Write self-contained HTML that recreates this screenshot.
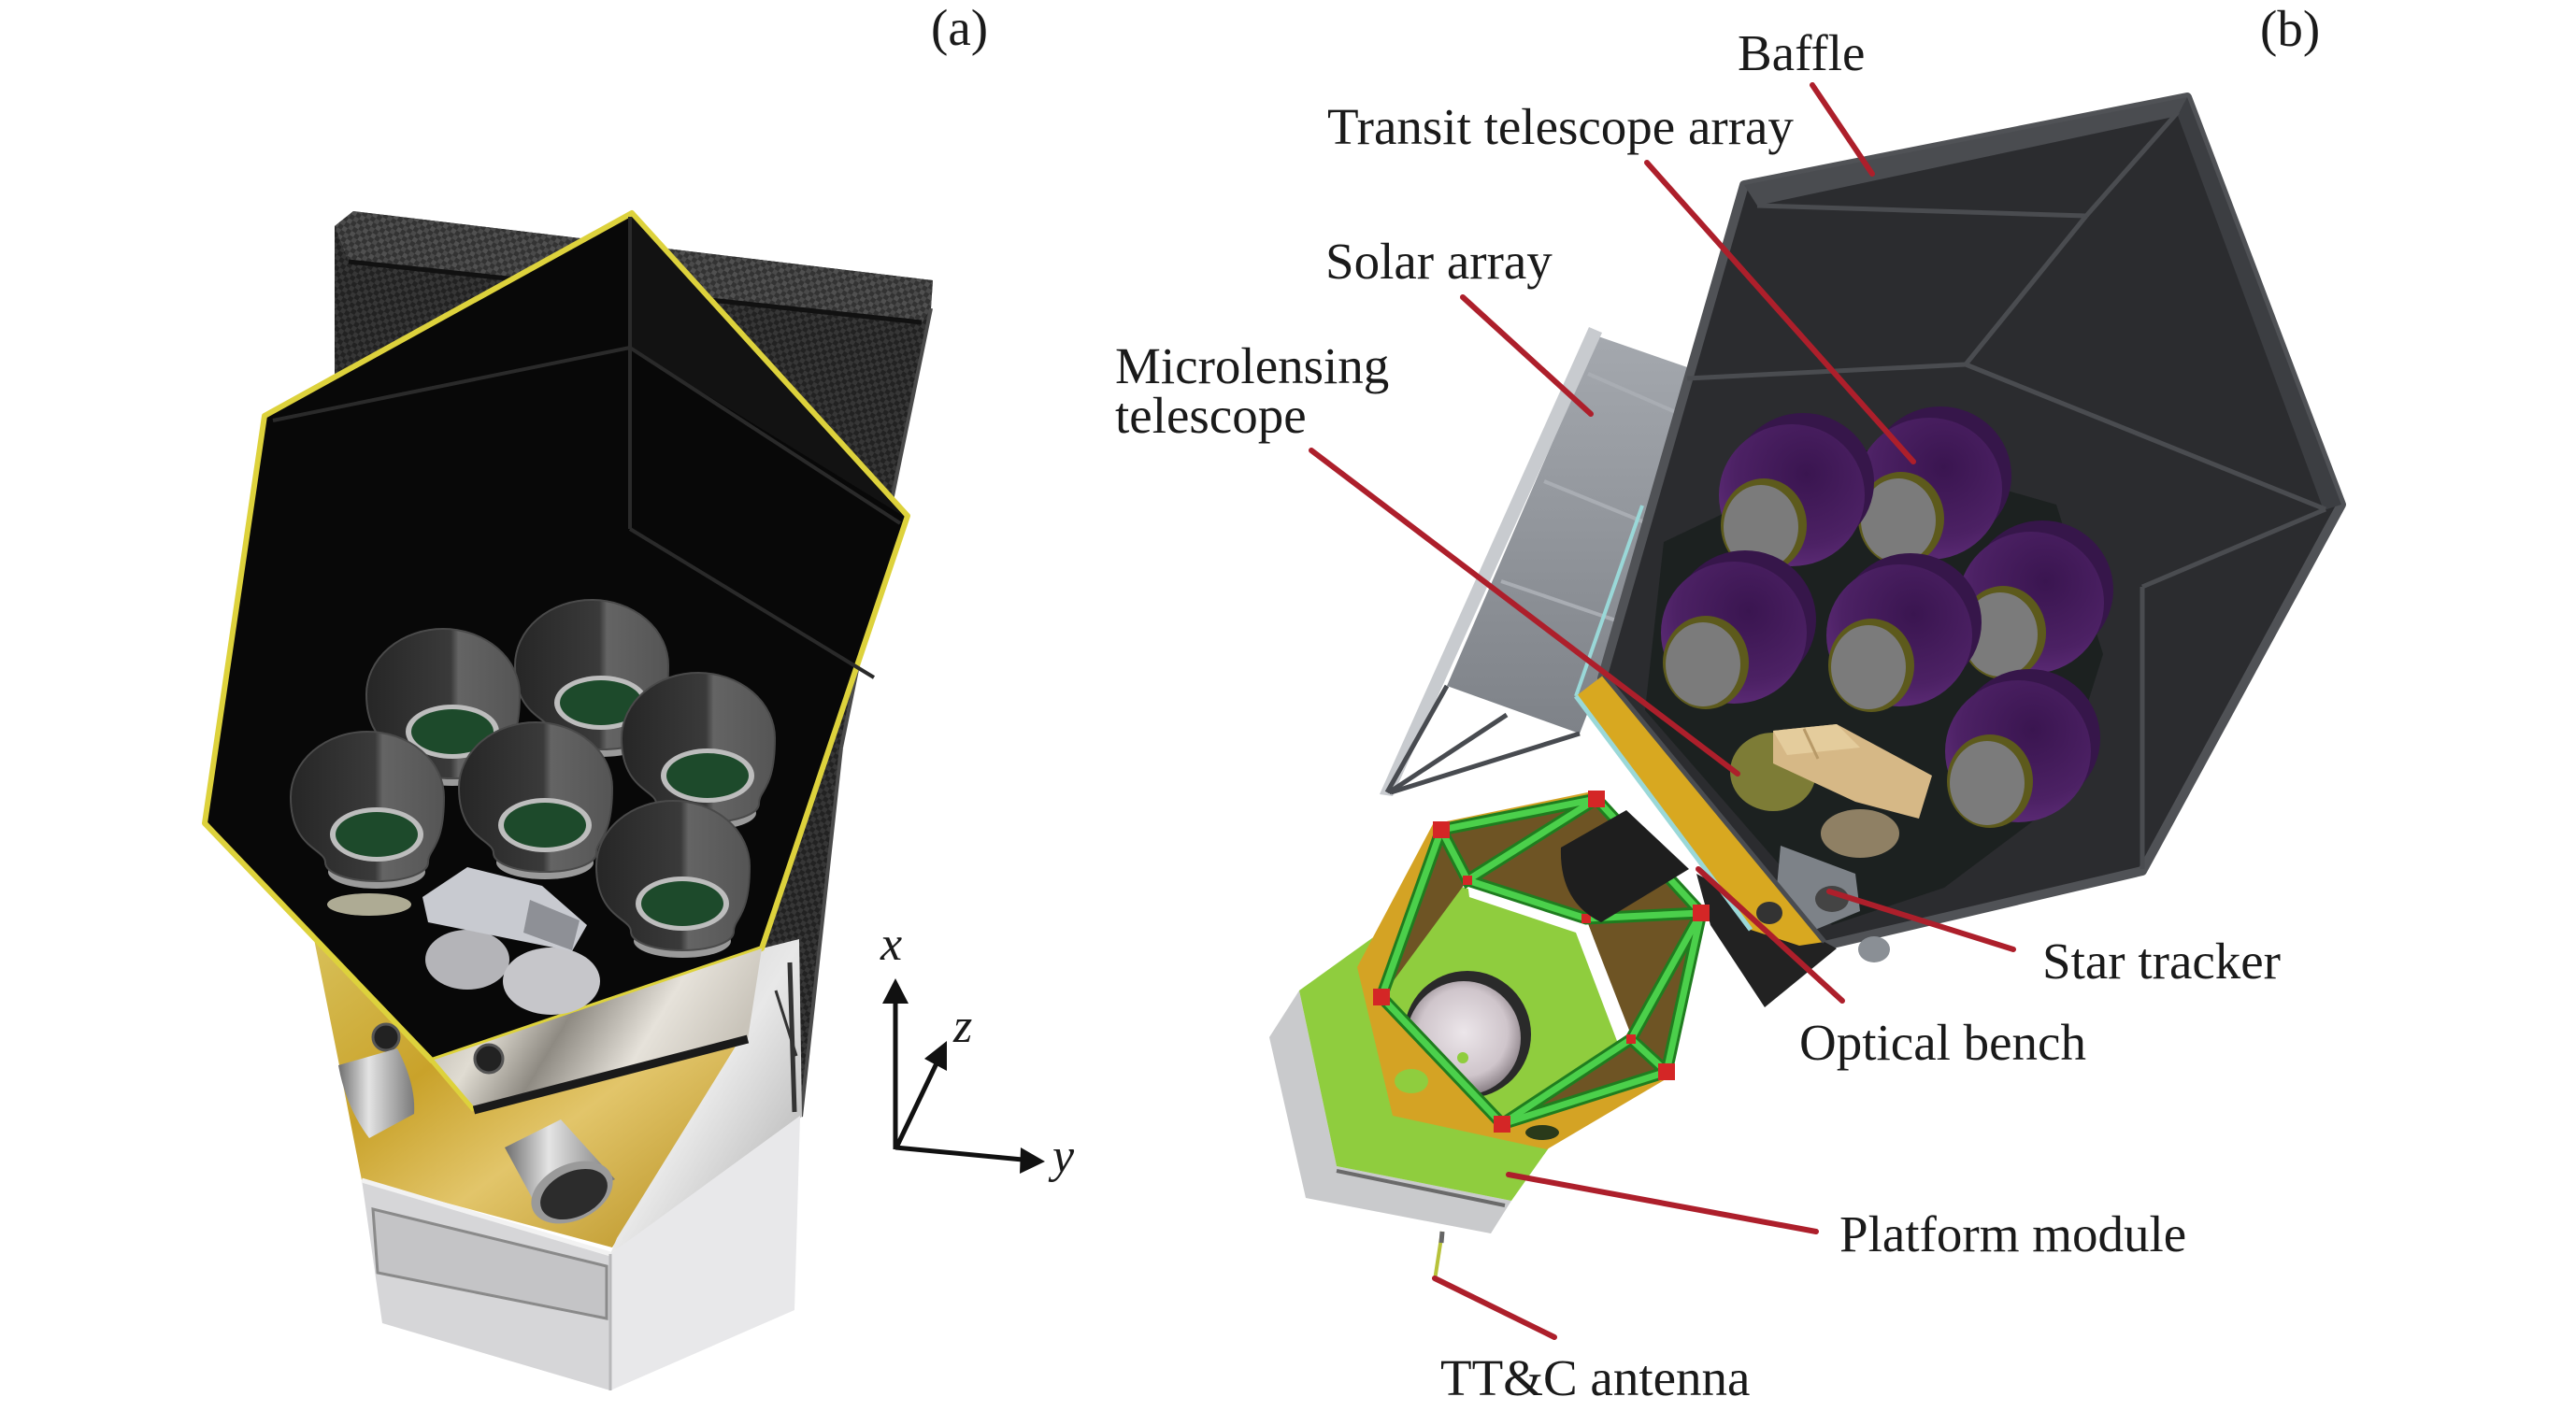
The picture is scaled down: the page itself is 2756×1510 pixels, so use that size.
<!DOCTYPE html>
<html>
<head>
<meta charset="utf-8">
<style>
  html,body{margin:0;padding:0;background:#fff;}
  svg{display:block;}
  .lbl{font-family:"Liberation Serif","Times New Roman",serif;font-size:55px;fill:#1a1a1a;}
  .ax{font-family:"Liberation Serif","Times New Roman",serif;font-size:52px;font-style:italic;fill:#1a1a1a;}
</style>
</head>
<body>
<svg width="2756" height="1510" viewBox="0 0 2756 1510" xmlns="http://www.w3.org/2000/svg">
<defs>
  <pattern id="cf" width="10" height="10" patternUnits="userSpaceOnUse" patternTransform="rotate(32)">
    <rect width="10" height="10" fill="#222"/>
    <rect width="5" height="5" fill="#363636"/>
    <rect x="5" y="5" width="5" height="5" fill="#363636"/>
  </pattern>
  <pattern id="cf2" width="10" height="10" patternUnits="userSpaceOnUse" patternTransform="rotate(32)">
    <rect width="10" height="10" fill="#333"/>
    <rect width="5" height="5" fill="#505050"/>
    <rect x="5" y="5" width="5" height="5" fill="#4a4a4a"/>
  </pattern>
  <linearGradient id="gold" x1="0" y1="0" x2="1" y2="1">
    <stop offset="0" stop-color="#d8c15a"/>
    <stop offset="0.35" stop-color="#c9a22a"/>
    <stop offset="0.6" stop-color="#e2c56a"/>
    <stop offset="1" stop-color="#b68e1e"/>
  </linearGradient>
  <linearGradient id="foil" x1="0" y1="0" x2="1" y2="0.3">
    <stop offset="0" stop-color="#a9a49a"/>
    <stop offset="0.3" stop-color="#e0dcd2"/>
    <stop offset="0.5" stop-color="#8e8a82"/>
    <stop offset="0.75" stop-color="#e6e2da"/>
    <stop offset="1" stop-color="#c9c4ba"/>
  </linearGradient>
  <linearGradient id="foilS" x1="0" y1="0" x2="1" y2="1">
    <stop offset="0" stop-color="#c8c8c8"/>
    <stop offset="0.5" stop-color="#e8e8e8"/>
    <stop offset="1" stop-color="#a8a8a8"/>
  </linearGradient>
  <linearGradient id="cupA" x1="0" y1="0" x2="1" y2="0">
    <stop offset="0" stop-color="#262626"/>
    <stop offset="0.55" stop-color="#3a3a3a"/>
    <stop offset="0.6" stop-color="#646464"/>
    <stop offset="1" stop-color="#555"/>
  </linearGradient>
  <linearGradient id="cyl" x1="0" y1="0" x2="1" y2="0">
    <stop offset="0" stop-color="#6e6e6e"/>
    <stop offset="0.4" stop-color="#e4e4e4"/>
    <stop offset="1" stop-color="#7a7a7a"/>
  </linearGradient>
  <radialGradient id="purp" cx="0.6" cy="0.35" r="0.7">
    <stop offset="0" stop-color="#3a1550"/>
    <stop offset="0.7" stop-color="#4c2164"/>
    <stop offset="1" stop-color="#5e2c78"/>
  </radialGradient>
  <radialGradient id="disk" cx="0.5" cy="0.45" r="0.55">
    <stop offset="0" stop-color="#ece6ea"/>
    <stop offset="0.7" stop-color="#cfc5cb"/>
    <stop offset="1" stop-color="#8a8086"/>
  </radialGradient>
  <linearGradient id="solar" x1="0" y1="0" x2="0" y2="1">
    <stop offset="0" stop-color="#a4a8ae"/>
    <stop offset="1" stop-color="#7e8288"/>
  </linearGradient>
</defs>

<rect width="2756" height="1510" fill="#fff"/>

<!-- ================= PANEL (a) ================= -->
<path d="M358,242 L378,226 L998,300 L996,330 L900,800 L857,1195 L790,1195 L815,1015 L600,700 L358,520 Z" fill="url(#cf)"/>
<path d="M378,226 L998,300 L996,330 L986,345 L373,280 L358,242 Z" fill="url(#cf2)"/>
<line x1="373" y1="280" x2="986" y2="345" stroke="#111" stroke-width="5"/>
<line x1="996" y1="330" x2="900" y2="800" stroke="#4a4a4a" stroke-width="4"/>
<line x1="900" y1="800" x2="857" y2="1195" stroke="#4a4a4a" stroke-width="4"/>

<path d="M335,1000 L462,1135 L507,1188 L790,1115 L655,1335 L387,1263 L365,1150 Z" fill="url(#gold)"/>
<path d="M790,1115 L815,1015 L855,1005 L858,1195 L653,1342 L660,1325 Z" fill="url(#foilS)"/>
<line x1="845" y1="1030" x2="850" y2="1190" stroke="#333" stroke-width="5"/>
<line x1="830" y1="1060" x2="852" y2="1130" stroke="#333" stroke-width="3"/>

<path d="M676,228 L971,552 L815,1015 L462,1135 L219,881 L283,445 Z" fill="#080808" stroke="#ddd23c" stroke-width="6" stroke-linejoin="round"/>
<path d="M676,232 L966,552 L674,372 Z" fill="#121212"/>
<g stroke="#2a2a2a" stroke-width="4" fill="none">
  <line x1="674" y1="232" x2="674" y2="566"/>
  <line x1="674" y1="372" x2="292" y2="450"/>
  <line x1="674" y1="372" x2="963" y2="560"/>
  <line x1="674" y1="566" x2="935" y2="725"/>
</g>

<!-- telescopes (a) -->
<g stroke="#4a4a4a" stroke-width="2">
  <!-- c2 -->
  <ellipse cx="643" cy="792" rx="52" ry="18" fill="#9a9a9a" stroke="none"/>
  <path d="M551,712 A82,70 0 0 1 715,712 C715,767 698,767 698,782 A55,20 0 0 1 588,782 C588,767 551,767 551,712 Z" fill="url(#cupA)"/>
  <ellipse cx="643" cy="752" rx="50" ry="29" fill="#bdbdbd" stroke="none"/>
  <ellipse cx="643" cy="752" rx="44" ry="24" fill="#1d4a2b" stroke="none"/>
  <!-- c1 -->
  <ellipse cx="484" cy="823" rx="52" ry="18" fill="#9a9a9a" stroke="none"/>
  <path d="M392,743 A82,70 0 0 1 556,743 C556,798 539,798 539,813 A55,20 0 0 1 429,813 C429,798 392,798 392,743 Z" fill="url(#cupA)"/>
  <ellipse cx="484" cy="783" rx="50" ry="29" fill="#bdbdbd" stroke="none"/>
  <ellipse cx="484" cy="783" rx="44" ry="24" fill="#1d4a2b" stroke="none"/>
  <!-- c5 -->
  <ellipse cx="757" cy="870" rx="52" ry="18" fill="#9a9a9a" stroke="none"/>
  <path d="M665,790 A82,70 0 0 1 829,790 C829,845 812,845 812,860 A55,20 0 0 1 702,860 C702,845 665,845 665,790 Z" fill="url(#cupA)"/>
  <ellipse cx="757" cy="830" rx="50" ry="29" fill="#bdbdbd" stroke="none"/>
  <ellipse cx="757" cy="830" rx="44" ry="24" fill="#1d4a2b" stroke="none"/>
  <!-- c4 -->
  <ellipse cx="583" cy="923" rx="52" ry="18" fill="#9a9a9a" stroke="none"/>
  <path d="M491,843 A82,70 0 0 1 655,843 C655,898 638,898 638,913 A55,20 0 0 1 528,913 C528,898 491,898 491,843 Z" fill="url(#cupA)"/>
  <ellipse cx="583" cy="883" rx="50" ry="29" fill="#bdbdbd" stroke="none"/>
  <ellipse cx="583" cy="883" rx="44" ry="24" fill="#1d4a2b" stroke="none"/>
  <!-- c3 -->
  <ellipse cx="403" cy="933" rx="52" ry="18" fill="#9a9a9a" stroke="none"/>
  <path d="M311,853 A82,70 0 0 1 475,853 C475,908 458,908 458,923 A55,20 0 0 1 348,923 C348,908 311,908 311,853 Z" fill="url(#cupA)"/>
  <ellipse cx="403" cy="893" rx="50" ry="29" fill="#bdbdbd" stroke="none"/>
  <ellipse cx="403" cy="893" rx="44" ry="24" fill="#1d4a2b" stroke="none"/>
  <!-- c6 -->
  <ellipse cx="730" cy="1007" rx="52" ry="18" fill="#9a9a9a" stroke="none"/>
  <path d="M638,927 A82,70 0 0 1 802,927 C802,982 785,982 785,997 A55,20 0 0 1 675,997 C675,982 638,982 638,927 Z" fill="url(#cupA)"/>
  <ellipse cx="730" cy="967" rx="50" ry="29" fill="#bdbdbd" stroke="none"/>
  <ellipse cx="730" cy="967" rx="44" ry="24" fill="#1d4a2b" stroke="none"/>
</g>
<ellipse cx="395" cy="968" rx="45" ry="12" fill="#d8d4b8" opacity="0.8"/>

<!-- silver instrument (a) -->
<ellipse cx="500" cy="1027" rx="45" ry="32" fill="#b4b4b8"/>
<ellipse cx="590" cy="1050" rx="52" ry="36" fill="#c6c6ca"/>
<path d="M500,928 L580,948 L628,990 L612,1018 L458,987 L452,960 Z" fill="#c8cad0"/>
<path d="M567,963 L620,985 L612,1017 L560,998 Z" fill="#8e9096"/>

<path d="M462,1135 L815,1015 L800,1112 L507,1188 Z" fill="url(#foil)"/>
<line x1="462" y1="1135" x2="507" y2="1188" stroke="#ddd23c" stroke-width="5"/>
<line x1="507" y1="1188" x2="800" y2="1112" stroke="#1a1a1a" stroke-width="9"/>

<circle cx="413" cy="1110" r="14" fill="#222" stroke="#555" stroke-width="3"/>
<circle cx="523" cy="1133" r="15" fill="#222" stroke="#555" stroke-width="3"/>

<path d="M362,1140 L425,1122 Q445,1160 443,1192 L395,1218 Q370,1185 362,1140 Z" fill="url(#cyl)"/>
<path d="M540,1228 L600,1198 L658,1262 L580,1302 Z" fill="url(#cyl)"/>
<ellipse cx="612" cy="1276" rx="46" ry="30" transform="rotate(-25 612 1276)" fill="#9a9a9a"/>
<ellipse cx="614" cy="1278" rx="38" ry="24" transform="rotate(-25 614 1278)" fill="#2c2c2c"/>

<path d="M387,1263 L653,1342 L653,1488 L409,1416 Z" fill="#d6d6d8"/>
<path d="M399,1294 L649,1355 L649,1411 L404,1362 Z" fill="#c4c4c6" stroke="#8a8a8a" stroke-width="3"/>
<path d="M653,1342 L856,1194 L850,1402 L653,1488 Z" fill="#e8e8ea"/>
<line x1="387" y1="1263" x2="653" y2="1342" stroke="#f2f2f2" stroke-width="5"/>
<line x1="653" y1="1342" x2="653" y2="1488" stroke="#b8b8ba" stroke-width="3"/>

<!-- axes -->
<g stroke="#111" stroke-width="5" fill="none">
  <line x1="958" y1="1230" x2="958" y2="1070"/>
  <line x1="960" y1="1226" x2="1002" y2="1138"/>
  <line x1="958" y1="1228" x2="1094" y2="1241"/>
</g>
<polygon points="958,1047 944,1074 972,1074" fill="#111"/>
<polygon points="1013,1114 989,1133 1013,1146" fill="#111"/>
<polygon points="1118,1243 1092,1228 1091,1256" fill="#111"/>
<text class="ax" x="942" y="1027">x</text>
<text class="ax" x="1020" y="1115">z</text>
<text class="ax" x="1126" y="1254">y</text>

<text class="lbl" x="996" y="48">(a)</text>

<!-- ================= PANEL (b) ================= -->
<path d="M1710,360 L1808,394 L1712,728 L1690,785 L1548,734 Z" fill="url(#solar)"/>
<g stroke="#a9adb3" stroke-width="4">
  <line x1="1699" y1="400" x2="1795" y2="442"/>
  <line x1="1652" y1="515" x2="1762" y2="560"/>
  <line x1="1606" y1="622" x2="1732" y2="665"/>
</g>
<path d="M1700,350 L1714,356 L1490,852 L1476,850 Z" fill="#c8cbcf"/>
<g stroke="#484b50" stroke-width="5">
  <line x1="1484" y1="848" x2="1548" y2="734"/>
  <line x1="1486" y1="848" x2="1612" y2="765"/>
  <line x1="1488" y1="848" x2="1690" y2="785"/>
</g>

<path d="M1866,198 L2340,104 L2505,540 L2292,932 L1952,1012 L1714,726 Z" fill="#2b2c2f" stroke="#505256" stroke-width="10" stroke-linejoin="round"/>
<path d="M1866,198 L2340,104 L2330,124 L1880,220 Z" fill="#4a4c50"/>
<path d="M2340,104 L2505,540 L2486,546 L2330,124 Z" fill="#3c3e42"/>
<g stroke="#4a4c50" stroke-width="5" fill="none">
  <line x1="1880" y1="220" x2="2232" y2="231"/>
  <line x1="2232" y1="231" x2="2330" y2="120"/>
  <line x1="2232" y1="231" x2="2103" y2="390"/>
  <line x1="2103" y1="390" x2="1805" y2="405"/>
  <line x1="2103" y1="390" x2="2488" y2="545"/>
  <line x1="2488" y1="545" x2="2292" y2="628"/>
  <line x1="2292" y1="628" x2="2292" y2="930"/>
</g>
<path d="M1780,580 L1990,480 L2200,540 L2250,700 L2200,860 L2080,950 L1960,990 L1760,760 Z" fill="#1c2120"/>

<g>
  <ellipse cx="2076" cy="509" rx="76" ry="74" fill="#36164a"/>
  <ellipse cx="2064" cy="523" rx="78" ry="76" fill="url(#purp)"/>
  <ellipse cx="2034" cy="555" rx="46" ry="50" fill="#5d5a1c"/>
  <ellipse cx="2031" cy="557" rx="40" ry="45" fill="#7b7b7b"/>
  <ellipse cx="1929" cy="516" rx="76" ry="74" fill="#36164a"/>
  <ellipse cx="1917" cy="530" rx="78" ry="76" fill="url(#purp)"/>
  <ellipse cx="1887" cy="562" rx="46" ry="50" fill="#5d5a1c"/>
  <ellipse cx="1884" cy="564" rx="40" ry="45" fill="#7b7b7b"/>
  <ellipse cx="2185" cy="631" rx="76" ry="74" fill="#36164a"/>
  <ellipse cx="2173" cy="645" rx="78" ry="76" fill="url(#purp)"/>
  <ellipse cx="2143" cy="677" rx="46" ry="50" fill="#5d5a1c"/>
  <ellipse cx="2140" cy="679" rx="40" ry="45" fill="#7b7b7b"/>
  <ellipse cx="1867" cy="663" rx="76" ry="74" fill="#36164a"/>
  <ellipse cx="1855" cy="677" rx="78" ry="76" fill="url(#purp)"/>
  <ellipse cx="1825" cy="709" rx="46" ry="50" fill="#5d5a1c"/>
  <ellipse cx="1822" cy="711" rx="40" ry="45" fill="#7b7b7b"/>
  <ellipse cx="2044" cy="666" rx="76" ry="74" fill="#36164a"/>
  <ellipse cx="2032" cy="680" rx="78" ry="76" fill="url(#purp)"/>
  <ellipse cx="2002" cy="712" rx="46" ry="50" fill="#5d5a1c"/>
  <ellipse cx="1999" cy="714" rx="40" ry="45" fill="#7b7b7b"/>
  <ellipse cx="2171" cy="790" rx="76" ry="74" fill="#36164a"/>
  <ellipse cx="2159" cy="804" rx="78" ry="76" fill="url(#purp)"/>
  <ellipse cx="2129" cy="836" rx="46" ry="50" fill="#5d5a1c"/>
  <ellipse cx="2126" cy="838" rx="40" ry="45" fill="#7b7b7b"/>
</g>

<ellipse cx="1990" cy="892" rx="42" ry="26" fill="#8f8064"/>
<ellipse cx="1897" cy="826" rx="46" ry="42" fill="#7d7c36"/>
<path d="M1897,782 L1965,775 L2067,830 L2053,876 L1985,858 L1897,817 Z" fill="#d6b886"/>
<path d="M1897,782 L1965,775 L1990,800 L1912,808 Z" fill="#e4cc9c"/>
<line x1="1930" y1="780" x2="1945" y2="812" stroke="#b89a68" stroke-width="3"/>

<path d="M1905,905 L1985,935 L1990,975 L1930,1000 L1900,960 Z" fill="#7d8288"/>
<ellipse cx="1960" cy="962" rx="18" ry="14" fill="#444"/>
<ellipse cx="2005" cy="1016" rx="17" ry="14" fill="#8a8f95"/>

<path d="M1815,935 L1965,1015 L1888,1078 L1830,990 Z" fill="#222"/>

<!-- platform -->
<path d="M1390,1060 L1358,1110 L1397,1282 L1595,1320 L1617,1285 L1430,1248 Z" fill="#c9cacc"/>
<line x1="1430" y1="1253" x2="1610" y2="1290" stroke="#6a6a6a" stroke-width="4"/>
<path d="M1390,1060 L1550,945 L1693,987 L1743,1107 L1617,1285 L1430,1248 Z" fill="#8fcd3e"/>
<path d="M1542,888 L1708,855 L1820,977 L1783,1147 L1607,1203 L1478,1067 Z M1570,942 L1478,1067 L1607,1203 L1745,1112 L1697,983 Z" fill="#6e5424" fill-rule="evenodd"/>
<path d="M1570,944 L1697,984 L1746,1110 L1730,1114 L1686,998 L1572,960 Z" fill="#fff"/>
<circle cx="1570" cy="1107" r="68" fill="#2a2a2a"/>
<circle cx="1566" cy="1111" r="61" fill="url(#disk)"/>
<circle cx="1565" cy="1132" r="6" fill="#8fcd3e"/>
<path d="M1533,882 L1708,846 L1824,975 L1787,1152 L1655,1230 L1490,1194 L1452,1035 Z M1542,888 L1478,1067 L1607,1203 L1783,1147 L1820,977 L1708,855 Z" fill="#d4a324" fill-rule="evenodd"/>
<ellipse cx="1510" cy="1157" rx="18" ry="13" fill="#8fcd3e"/>
<ellipse cx="1650" cy="1212" rx="18" ry="8" fill="#2a3a1a"/>
<g stroke="#1f7d1f" stroke-width="13" stroke-linecap="round" fill="none">
  <path d="M1542,888 L1708,855 L1820,977 L1783,1147 L1607,1203 L1478,1067 Z"/>
  <path d="M1542,888 L1570,942 L1708,855 M1570,942 L1697,983 L1820,977 M1820,977 L1745,1112 L1783,1147 M1745,1112 L1607,1203"/>
</g>
<g stroke="#4bd04b" stroke-width="7" stroke-linecap="round" fill="none">
  <path d="M1542,888 L1708,855 L1820,977 L1783,1147 L1607,1203 L1478,1067 Z"/>
  <path d="M1542,888 L1570,942 L1708,855 M1570,942 L1697,983 L1820,977 M1820,977 L1745,1112 L1783,1147 M1745,1112 L1607,1203"/>
</g>
<g fill="#d42626">
  <rect x="1533" y="879" width="18" height="18"/>
  <rect x="1699" y="846" width="18" height="18"/>
  <rect x="1811" y="968" width="18" height="18"/>
  <rect x="1774" y="1138" width="18" height="18"/>
  <rect x="1598" y="1194" width="18" height="18"/>
  <rect x="1469" y="1058" width="18" height="18"/>
  <rect x="1565" y="937" width="10" height="10"/>
  <rect x="1692" y="978" width="10" height="10"/>
  <rect x="1740" y="1107" width="10" height="10"/>
</g>

<path d="M1670,907 L1740,867 L1807,930 L1713,987 Q1668,965 1670,907 Z" fill="#1e1e1e"/>

<line x1="1757" y1="541" x2="1686" y2="745" stroke="#9ad8d8" stroke-width="4"/>
<path d="M1686,745 L1716,722 L1952,1008 L1925,1012 L1873,995 Z" fill="#d8a820"/>
<line x1="1686" y1="745" x2="1873" y2="995" stroke="#9ad8d8" stroke-width="5"/>
<line x1="1716" y1="722" x2="1952" y2="1008" stroke="#4a4c50" stroke-width="5"/>
<ellipse cx="1893" cy="977" rx="14" ry="12" fill="#333"/>

<line x1="1543" y1="1318" x2="1535" y2="1370" stroke="#b7c23a" stroke-width="4"/>
<line x1="1543" y1="1318" x2="1542" y2="1330" stroke="#666" stroke-width="5"/>

<!-- leader lines -->
<g stroke="#ad1f2b" stroke-width="6" stroke-linecap="round">
  <line x1="1939" y1="91" x2="2003" y2="186"/>
  <line x1="1762" y1="174" x2="2047" y2="494"/>
  <line x1="1565" y1="318" x2="1702" y2="443"/>
  <line x1="1403" y1="482" x2="1859" y2="828"/>
  <line x1="2154" y1="1016" x2="1957" y2="954"/>
  <line x1="1971" y1="1071" x2="1817" y2="930"/>
  <line x1="1943" y1="1318" x2="1614" y2="1257"/>
  <line x1="1663" y1="1431" x2="1535" y2="1368"/>
</g>

<text class="lbl" x="2418" y="49">(b)</text>
<text class="lbl" x="1859" y="75">Baffle</text>
<text class="lbl" x="1420" y="154">Transit telescope array</text>
<text class="lbl" x="1418" y="298">Solar array</text>
<text class="lbl" x="1193" y="410">Microlensing</text>
<text class="lbl" x="1193" y="463">telescope</text>
<text class="lbl" x="2185" y="1047">Star tracker</text>
<text class="lbl" x="1925" y="1134">Optical bench</text>
<text class="lbl" x="1968" y="1339">Platform module</text>
<text class="lbl" x="1541" y="1493">TT&amp;C antenna</text>
</svg>
</body>
</html>
